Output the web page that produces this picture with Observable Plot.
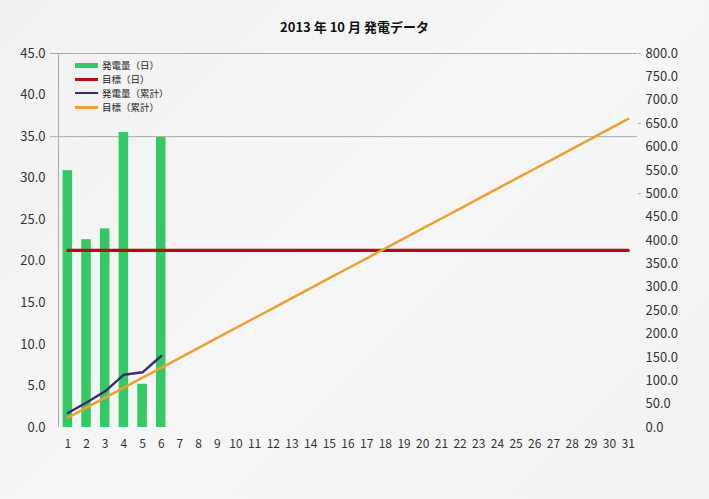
<!DOCTYPE html>
<html>
<head>
<meta charset="utf-8">
<script src="https://cdn.jsdelivr.net/npm/d3@7"></script>
<script src="https://cdn.jsdelivr.net/npm/@observablehq/plot@0.6"></script>
<style>
  html, body { margin: 0; padding: 0; background: #f3f3f3; }
  #wrap { position: relative; width: 709px; height: 499px; overflow: hidden;
          background: linear-gradient(135deg, #f1f1f1 0%, #f6f6f6 50%, #f2f2f2 100%);
          font-family: "Noto Sans CJK JP", "Noto Sans", sans-serif; }
  #title { position: absolute; left: 0; width: 709px; top: 17px; text-align: center;
           font-size: 13px; font-weight: bold; color: #111; }
  #legend { position: absolute; left: 75px; top: 58px; font-size: 9.5px; color: #222; }
  .row { height: 14px; display: flex; align-items: center; }
  .sw { width: 23px; margin-right: 4px; }
  #chart { position: absolute; left: 0; top: 0; }
</style>
</head>
<body>
<div id="wrap">
  <div id="chart"></div>
  <div id="title">2013 年 10 月 発電データ</div>
  <div id="legend"></div>
</div>
<script>
// ---- data ----
const days = [1,2,3,4,5,6,7,8,9,10,11,12,13,14,15,16,17,18,19,20,21,22,23,24,25,26,27,28,29,30,31];
const dailyDays = [1,2,3,4,5,6];
const dailyKwh = [30.9, 22.6, 23.9, 35.5, 5.2, 34.9];
const cumulativeKwh = [30.9, 53.5, 77.4, 112.9, 118.1, 153.0];
const targetDailyKwh = 21.3;
const targetCumulativeKwh = [21.3, 42.6, 63.9, 85.2, 106.5, 127.7, 149.0, 170.3, 191.6, 212.9,
  234.2, 255.5, 276.8, 298.1, 319.4, 340.6, 361.9, 383.2, 404.5, 425.8, 447.1, 468.4, 489.7,
  511.0, 532.3, 553.5, 574.8, 596.1, 617.4, 638.7, 660.0];
const leftTicks = [0,5,10,15,20,25,30,35,40,45];
const rightTicks = [0,50,100,150,200,250,300,350,400,450,500,550,600,650,700,750,800];
const gridTicks = [35, 45];
const seriesNames = ["発電量（日）", "目標（日）", "発電量（累計）", "目標（累計）"];
const colors = { daily: "#34c964", targetDaily: "#b00d14", cumulative: "#3b2a6e", targetCum: "#eda030" };

const leftMax = 45, rightMax = 800;
const k = leftMax / rightMax;
const xMin = 0.5, xMax = 31.5;

const barData = dailyDays.map((d, i) => ({ day: d, kwh: dailyKwh[i] }));
const cumData = dailyDays.map((d, i) => ({ day: d, v: cumulativeKwh[i] * k }));
const tgtCumData = days.map((d, i) => ({ day: d, v: targetCumulativeKwh[i] * k }));
const tgtDailyData = [days[0], days[days.length - 1]].map(d => ({ day: d, v: targetDailyKwh }));

const grid = "#ababab";

const chart = Plot.plot({
  width: 709, height: 499,
  marginLeft: 58, marginRight: 72, marginTop: 53, marginBottom: 72,
  style: { background: "transparent", fontFamily: "'Noto Sans CJK JP', 'Noto Sans', sans-serif", color: "#333" },
  x: { type: "linear", domain: [xMin, xMax] },
  y: { domain: [0, leftMax] },
  marks: [
    Plot.ruleY(gridTicks, { x1: xMin, x2: xMax, stroke: grid }),
    Plot.ruleX([xMin], { y1: 0, y2: leftMax, stroke: grid }),
    Plot.axisY({ ticks: gridTicks, tickSize: 8, tickFormat: () => "", stroke: grid }),
    Plot.axisY({ ticks: leftTicks, tickSize: 0, tickPadding: 13, fontSize: 13, tickFormat: d => d.toFixed(1), label: null }),
    Plot.axisY({ anchor: "right", ticks: [800, 650, 500].map(v => v * k), tickSize: 3, tickFormat: () => "", stroke: grid }),
    Plot.axisY({ anchor: "right", ticks: rightTicks.map(v => v * k), tickSize: 0, tickPadding: 8, fontSize: 13,
                 tickFormat: v => (v / k).toFixed(1), label: null }),
    Plot.axisX({ ticks: days, tickSize: 0, tickPadding: 12, fontSize: 12, tickFormat: d => String(d), label: null }),
    Plot.rectY(barData, { x1: d => d.day - 0.255, x2: d => d.day + 0.255, y1: 0, y2: "kwh", fill: colors.daily }),
    Plot.line(tgtDailyData, { x: "day", y: "v", stroke: colors.targetDaily, strokeWidth: 3.2 }),
    Plot.line(tgtCumData, { x: "day", y: "v", stroke: colors.targetCum, strokeWidth: 2.5 }),
    Plot.line(cumData, { x: "day", y: "v", stroke: colors.cumulative, strokeWidth: 2.4 })
  ]
});
document.getElementById("chart").appendChild(chart);

// legend
const legend = document.getElementById("legend");
const legendColors = [colors.daily, colors.targetDaily, colors.cumulative, colors.targetCum];
const legendWidths = [5, 3, 2, 3];
seriesNames.forEach((name, i) => {
  const row = document.createElement("div");
  row.className = "row";
  const sw = document.createElement("div");
  sw.className = "sw";
  sw.style.height = legendWidths[i] + "px";
  sw.style.background = legendColors[i];
  const t = document.createElement("span");
  t.textContent = name;
  row.appendChild(sw);
  row.appendChild(t);
  legend.appendChild(row);
});
</script>
</body>
</html>
